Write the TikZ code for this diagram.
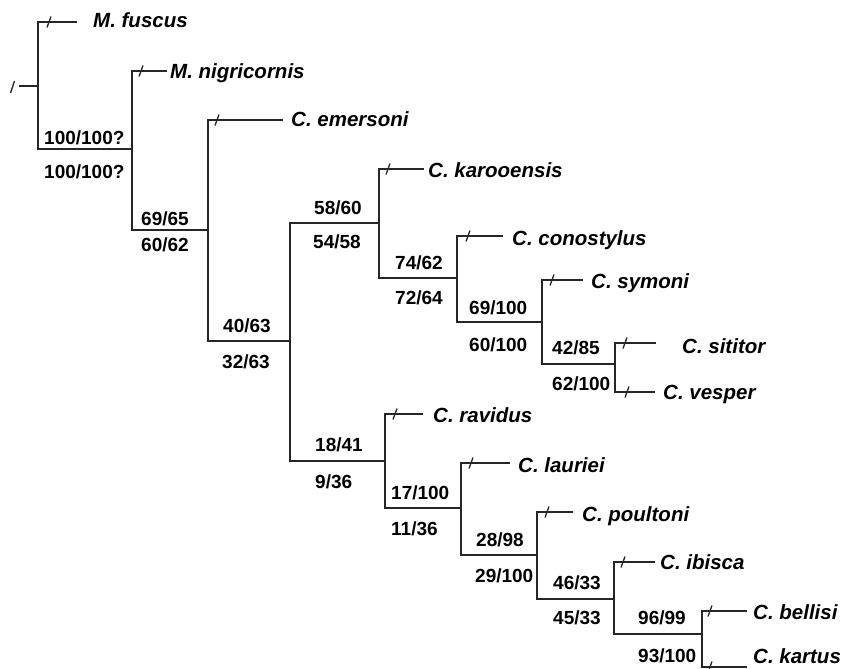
\documentclass[tikz,border=0pt]{standalone}
\usepackage{fontspec}
\setmainfont{Liberation Sans}
\usetikzlibrary{calc}
\tikzset{
  br/.style={line width=1.3pt, black!85},
  taxon/.style={anchor=base west, inner sep=0pt, font=\fontsize{20.5}{20.5}\selectfont\bfseries\itshape},
  support/.style={anchor=base west, inner sep=0pt, font=\fontsize{19}{19}\selectfont\bfseries},
}
\begin{document}
\begin{tikzpicture}[x=1pt,y=-1pt]
\useasboundingbox[fill=white] (0,0) rectangle (844,669);
% internal nodes
\coordinate (R0) at (19,86);
\coordinate (R) at (38,86);
\coordinate (N1) at (132,149);
\coordinate (N2) at (208,230);
\coordinate (N3) at (290,341);
\coordinate (N4) at (379,223);
\coordinate (N5) at (457,278);
\coordinate (N6) at (542,322);
\coordinate (N6b) at (615,364);
\coordinate (N7) at (385,461);
\coordinate (N8) at (461,508);
\coordinate (N9) at (537,555);
\coordinate (N10) at (614,599);
\coordinate (N11) at (702,634);
% leaf ends
\coordinate (fus) at (77,22);
\coordinate (nig) at (167,71);
\coordinate (eme) at (283,120);
\coordinate (kar) at (424,169);
\coordinate (con) at (503,236);
\coordinate (sym) at (583,280);
\coordinate (sit) at (656,343);
\coordinate (ves) at (655,392);
\coordinate (rav) at (423,414);
\coordinate (lau) at (510,463);
\coordinate (pou) at (573,512);
\coordinate (ibi) at (655,562);
\coordinate (bel) at (747,611);
\coordinate (kat) at (747,667);
% root
\draw[br] (R0) -- (R);
\draw[line width=1.4pt, black!85] (10.5,93) -- (14.5,81);
% branches
\foreach \p/\c in {R/fus,R/N1,N1/nig,N1/N2,N2/eme,N2/N3,N3/N4,N3/N7,N4/kar,N4/N5,
  N5/con,N5/N6,N6/sym,N6/N6b,N6b/sit,N6b/ves,N7/rav,N7/N8,N8/lau,N8/N9,N9/pou,N9/N10,
  N10/ibi,N10/N11,N11/bel,N11/kat}
  \draw[br] (\p) |- (\c);
% ticks
\foreach \p/\c/\d in {R/fus/11,N1/nig/9,N2/eme/9,N4/kar/9,N5/con/11,N6/sym/10,N6b/sit/10,
  N6b/ves/12,N7/rav/10,N8/lau/10,N9/pou/10,N10/ibi/9,N11/bel/8,N11/kat/8}
  \draw[br] ($(\p|-\c)+(\d,0)+(-2,5.5)$) -- ($(\p|-\c)+(\d,0)+(2,-5.5)$);
% taxon labels
\node[taxon] (tfus) at (93,28) {M. fuscus};
\node[taxon] (tnig) at (170,78) {M. nigricornis};
\node[taxon] (teme) at (291,127) {C. emersoni};
\node[taxon] (tkar) at (428,177) {C. karooensis};
\node[taxon] (tcon) at (512,245) {C. conostylus};
\node[taxon] (tsym) at (591,288) {C. symoni};
\node[taxon] (tsit) at (682,353) {C. sititor};
\node[taxon] (tves) at (663,399) {C. vesper};
\node[taxon] (trav) at (433,422) {C. ravidus};
\node[taxon] (tlau) at (518,472) {C. lauriei};
\node[taxon] (tpou) at (582,521) {C. poultoni};
\node[taxon] (tibi) at (660,569) {C. ibisca};
\node[taxon] (tbel) at (753,619) {C. bellisi};
\node[taxon] (tkat) at (753,663) {C. kartus};
% support values
\node[support] (s1a) at (44,144) {100/100?};
\node[support] (s1b) at (44,178) {100/100?};
\node[support] (s2a) at (141,225) {69/65};
\node[support] (s2b) at (141,251) {60/62};
\node[support] (s3a) at (223,332) {40/63};
\node[support] (s3b) at (222,368) {32/63};
\node[support] (s4a) at (314,214) {58/60};
\node[support] (s4b) at (313,248) {54/58};
\node[support] (s5a) at (395,269) {74/62};
\node[support] (s5b) at (395,304) {72/64};
\node[support] (s6a) at (469,314) {69/100};
\node[support] (s6b) at (469,351) {60/100};
\node[support] (s6ca) at (552,354) {42/85};
\node[support] (s6cb) at (552,390) {62/100};
\node[support] (s7a) at (315,451) {18/41};
\node[support] (s7b) at (315,488) {9/36};
\node[support] (s8a) at (391,499) {17/100};
\node[support] (s8b) at (391,535) {11/36};
\node[support] (s9a) at (476,546) {28/98};
\node[support] (s9b) at (475,582) {29/100};
\node[support] (s10a) at (553,589) {46/33};
\node[support] (s10b) at (553,624) {45/33};
\node[support] (s11a) at (638,624) {96/99};
\node[support] (s11b) at (638,662) {93/100};
\end{tikzpicture}
\end{document}
